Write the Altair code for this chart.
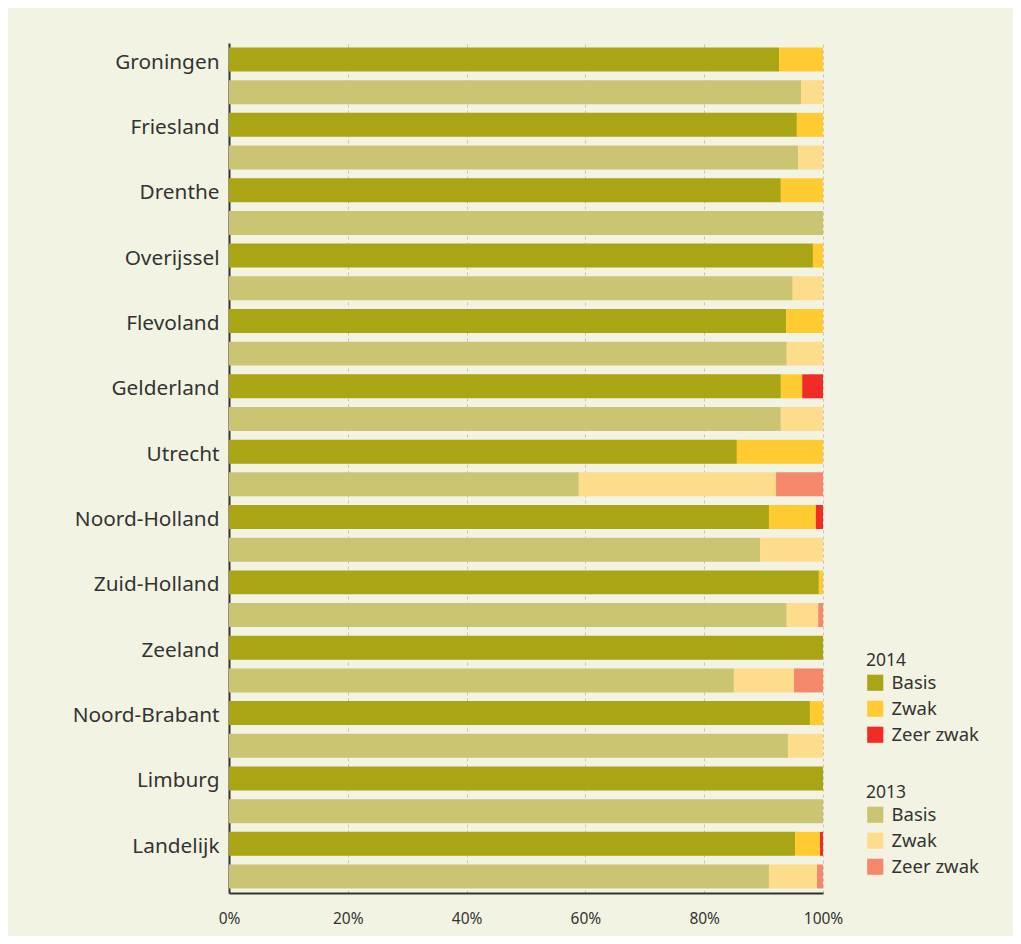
import altair as alt
import pandas as pd

provinces = ["Groningen", "Friesland", "Drenthe", "Overijssel", "Flevoland", "Gelderland",
             "Utrecht", "Noord-Holland", "Zuid-Holland", "Zeeland", "Noord-Brabant",
             "Limburg", "Landelijk"]
levels = ["Basis", "Zwak", "Zeer zwak"]

basis_2014 = [92.6, 95.6, 92.9, 98.3, 93.8, 92.9, 85.5, 90.9, 99.3, 100.0, 97.8, 100.0, 95.3]
zwak_2014 = [7.4, 4.4, 7.1, 1.7, 6.2, 3.6, 14.5, 7.9, 0.7, 0.0, 2.2, 0.0, 4.2]
zeer_2014 = [0.0, 0.0, 0.0, 0.0, 0.0, 3.5, 0.0, 1.2, 0.0, 0.0, 0.0, 0.0, 0.5]

basis_2013 = [96.3, 95.8, 100.0, 94.9, 93.9, 92.9, 58.9, 89.4, 93.9, 85.0, 94.1, 100.0, 90.9]
zwak_2013 = [3.7, 4.2, 0.0, 5.1, 6.1, 7.1, 33.2, 10.6, 5.3, 10.1, 5.9, 0.0, 8.1]
zeer_2013 = [0.0, 0.0, 0.0, 0.0, 0.0, 0.0, 7.9, 0.0, 0.8, 4.9, 0.0, 0.0, 1.0]

colors_2014 = ["#a9a514", "#ffcb30", "#f12c25"]
colors_2013 = ["#cbc473", "#fddc8b", "#f5876a"]

x_ticks = [0, 20, 40, 60, 80, 100]

def build(year, series):
    recs = []
    for i, p in enumerate(provinces):
        for j, lev in enumerate(levels):
            recs.append({"row": f"{p} {year}", "level": lev, "order": j,
                         "value": series[j][i]})
    return pd.DataFrame(recs)

df14 = build(2014, [basis_2014, zwak_2014, zeer_2014])
df13 = build(2013, [basis_2013, zwak_2013, zeer_2013])

row_order = []
for p in provinces:
    row_order += [f"{p} 2014", f"{p} 2013"]

FONT = "Noto Sans"
TXT = "#333333"

y_enc = alt.Y(
    "row:N",
    scale=alt.Scale(domain=row_order, paddingInner=0.266, paddingOuter=0.138),
    axis=alt.Axis(
        title=None, ticks=False, domainColor=TXT, domainWidth=2,
        labelExpr="indexof(datum.value, ' 2014') >= 0 ? replace(datum.value, ' 2014', '') : ''",
        labelFontSize=20.8, labelColor=TXT, labelPadding=10, labelFont=FONT,
        labelOffset=3,
    ),
)

x_enc = alt.X(
    "value:Q", stack="zero",
    scale=alt.Scale(domain=[0, 100], nice=False),
    axis=alt.Axis(
        title=None, values=x_ticks, labelExpr="datum.value + '%'",
        grid=True, gridDash=[3, 3], gridColor="#c4c4c4", gridWidth=1,
        ticks=False, domainColor=TXT, domainWidth=2, labelFlush=False,
        labelFontSize=15.5, labelColor=TXT, labelPadding=18, labelFont=FONT,
    ),
)

def legend(title, ly):
    return alt.Legend(
        title=title, orient="none", legendX=637, legendY=ly,
        symbolType="square", symbolSize=260, symbolStrokeWidth=0,
        labelFontSize=18.5, labelColor=TXT, labelFont=FONT, labelOffset=7,
        titleFontSize=17.5, titleColor=TXT, titleFont=FONT, titleFontWeight="normal",
        rowPadding=7, titlePadding=4,
    )

l14 = alt.Chart(df14).mark_bar().encode(
    x=x_enc, y=y_enc,
    color=alt.Color("level:N", scale=alt.Scale(domain=levels, range=colors_2014),
                    legend=legend("2014", 609)),
    order=alt.Order("order:Q"),
)
l13 = alt.Chart(df13).mark_bar().encode(
    x=x_enc, y=y_enc,
    color=alt.Color("level:N", scale=alt.Scale(domain=levels, range=colors_2013),
                    legend=legend("2013", 741)),
    order=alt.Order("order:Q"),
)

chart = alt.layer(l14, l13).resolve_scale(color="independent").properties(
    width=594, height=850, autosize="none",
    padding={"left": 221, "top": 35, "right": 190, "bottom": 43},
    background="#f3f3e3",
).configure_view(stroke=None)

chart.save("out.html", embed_options={"renderer": "svg", "actions": False})
